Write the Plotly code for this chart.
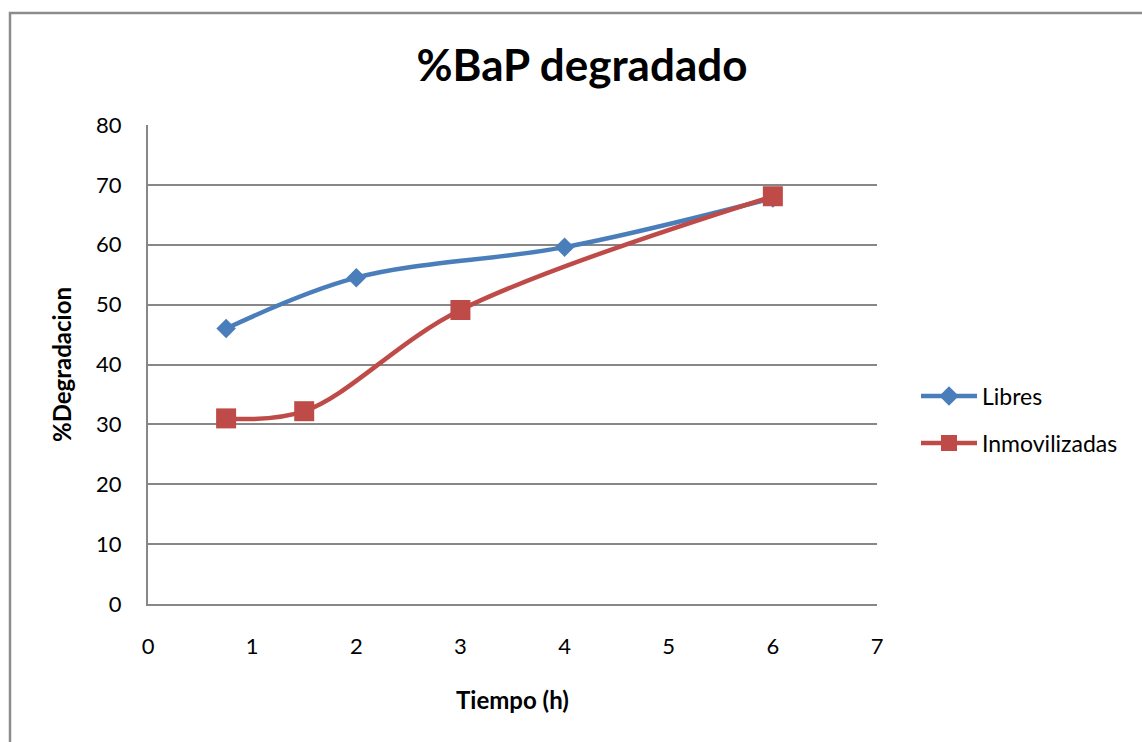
import plotly.graph_objects as go

# Time (h) and % BaP degraded for each cell condition
tiempo_libres = [0.75, 2, 4, 6]
degr_libres = [46.0, 54.5, 59.6, 67.8]

tiempo_inmov = [0.75, 1.5, 3, 6]
degr_inmov = [31.0, 32.2, 49.1, 68.1]

x_ticks = [0, 1, 2, 3, 4, 5, 6, 7]
y_ticks = [0, 10, 20, 30, 40, 50, 60, 70, 80]

FONT = "Lato, 'Open Sans', sans-serif"
BLUE = "#4a7ebb"
RED = "#be4b48"
GRID = "#878787"

fig = go.Figure()
fig.add_trace(go.Scatter(
    x=tiempo_libres, y=degr_libres, name="Libres",
    mode="lines+markers", showlegend=True,
    line=dict(color=BLUE, width=4.5, shape="spline", smoothing=1),
    marker=dict(symbol="diamond", size=15, color=BLUE),
    legend="legend",
))
fig.add_trace(go.Scatter(
    x=tiempo_inmov, y=degr_inmov, name="Inmovilizadas",
    mode="lines+markers", showlegend=True,
    line=dict(color=RED, width=4.5, shape="spline", smoothing=1),
    marker=dict(symbol="square", size=20, color=RED),
    legend="legend2",
))

legend_style = dict(xanchor="left", yanchor="middle", bgcolor="rgba(0,0,0,0)",
                    font=dict(size=23), itemwidth=56, visible=True)

fig.update_layout(
    width=1142, height=742,
    showlegend=True,
    margin=dict(l=148, r=265, t=125, b=138),
    paper_bgcolor="white", plot_bgcolor="white",
    font=dict(family=FONT, size=22, color="black"),
    title=dict(text="<b>%BaP degradado</b>", x=582 / 1142, xanchor="center",
               y=1 - 66 / 742, yanchor="middle",
               font=dict(family=FONT, size=44, color="black")),
    xaxis=dict(range=[0, 7], tickvals=x_ticks, showgrid=False, zeroline=False,
               showline=True, linecolor=GRID, linewidth=2, ticks="",
               ticklabelstandoff=22, tickfont=dict(size=22),
               title=dict(text="<b>Tiempo (h)</b>", font=dict(size=24), standoff=34)),
    yaxis=dict(range=[0, 80], tickvals=y_ticks, showgrid=True, gridcolor=GRID,
               gridwidth=1.5, zeroline=False, showline=True, linecolor=GRID,
               linewidth=2, ticks="", ticklabelstandoff=20, tickfont=dict(size=22),
               title=dict(text="<b>%Degradacion</b>", font=dict(size=24), standoff=18)),
    legend=dict(x=(916 - 148) / 729, y=0.434, **legend_style),
    legend2=dict(x=(916 - 148) / 729, y=0.336, **legend_style),
    shapes=[dict(type="rect", xref="paper", yref="paper",
                 x0=(10 - 148) / 729, x1=(1160 - 148) / 729,
                 y0=(604 - 760) / 479, y1=(604 - 13) / 479,
                 line=dict(color="#8c8c8c", width=2.5), layer="below")],
)

fig.write_html("out.html")
